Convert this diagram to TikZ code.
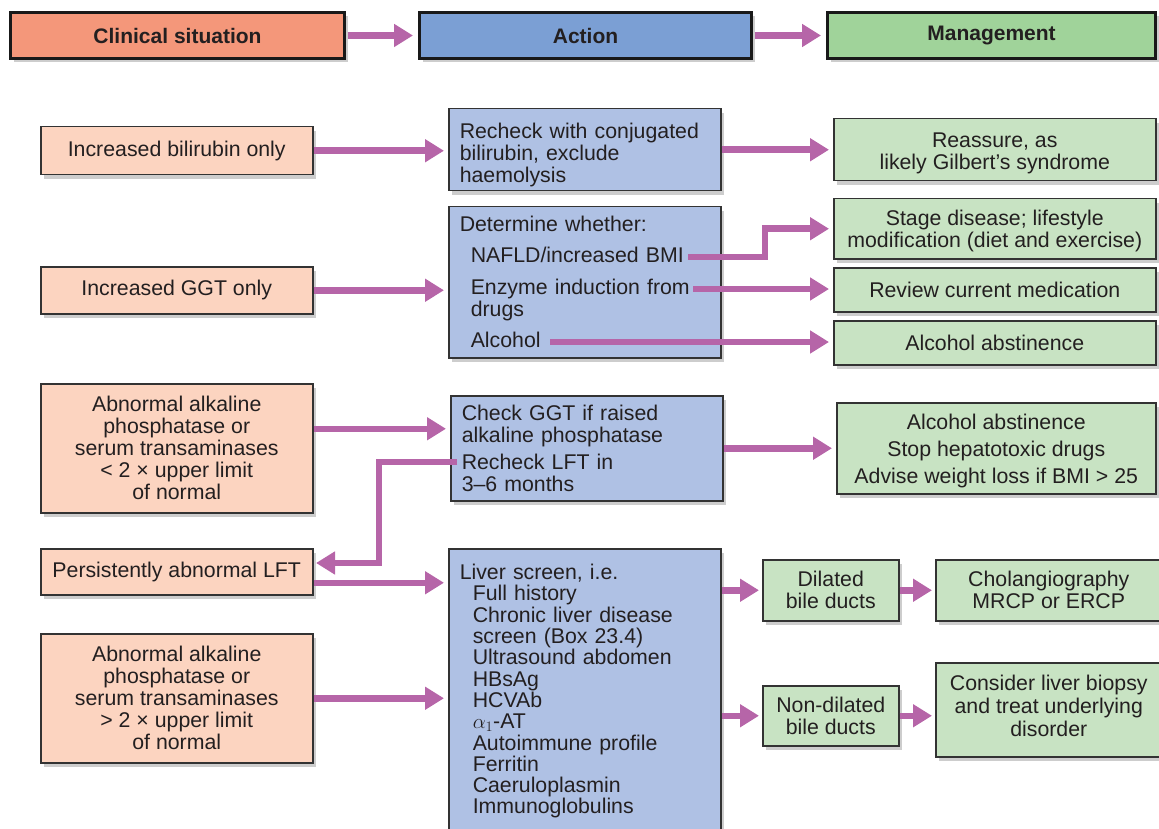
\documentclass[tikz,border=0pt]{standalone}
\usepackage{fontspec}
\setmainfont{Liberation Sans}
\usetikzlibrary{arrows.meta,shadows,calc}
\definecolor{hdrsal}{HTML}{F4977A}
\definecolor{hdrblue}{HTML}{7B9FD4}
\definecolor{hdrgreen}{HTML}{A0D39A}
\definecolor{lsal}{HTML}{FCD4C0}
\definecolor{lblue}{HTML}{AFC1E4}
\definecolor{lgreen}{HTML}{C8E3C3}
\definecolor{arr}{HTML}{B665A8}
\definecolor{bord}{HTML}{333333}
\definecolor{txt}{HTML}{231F20}
\newcommand{\dpstrut}[1]{\rule[-#1]{0pt}{#1}}
\newcommand{\htstrut}[1]{\rule{0pt}{#1}}
\begin{document}
\begin{tikzpicture}[x=1pt,y=-1pt,
  shad/.style={drop shadow={shadow xshift=3pt,shadow yshift=-4pt,opacity=0.28,fill=black!70}},
  hdr/.style={shad,draw=black!90,line width=3pt,minimum height=46pt,anchor=north west,inner sep=0pt,
    font=\fontsize{21}{22}\selectfont\bfseries,text=txt},
  cbox/.style={shad,draw=bord,line width=1.5pt,anchor=north west,inner sep=0pt,align=center,
    font=\fontsize{21.3}{22}\selectfont,text=txt},
  abox/.style={cbox,align=left,inner xsep=11pt,inner ysep=0pt,text width=250pt,fill=lblue},
  sbox/.style={cbox,fill=lsal},
  gbox/.style={cbox,fill=lgreen},
  flow/.style={draw=arr,line width=6.5pt,-{Triangle[length=19pt,width=22pt]},shorten >=4pt},
]
\useasboundingbox (0,0) rectangle (1159,829);

% headers
\node[hdr,fill=hdrsal,minimum width=334pt] (h1) at (9,11) {Clinical situation};
\node[hdr,fill=hdrblue,minimum width=332pt] (h2) at (418,11) {Action};
\node[hdr,fill=hdrgreen,minimum width=328pt] (h3) at (826,11) {Management};
\draw[flow,shorten >=5pt,shorten <=1.5pt] (h1.east) -- (h2.west);
\draw[flow,shorten >=5pt,shorten <=1.5pt] (h2.east) -- (h3.west);

% row 1
\node[sbox,minimum width=272pt,minimum height=48pt] (bili) at (40,126) {Increased bilirubin only};
\node[abox,minimum height=82pt] (recheck) at (448,108) {\htstrut{25.5pt}Recheck with conjugated\\bilirubin, exclude\\haemolysis};
\node[gbox,minimum width=322pt,minimum height=62pt] (reassure) at (833,118) {\htstrut{22.5pt}Reassure, as\\likely Gilbert’s syndrome};
\draw[flow] (bili.east) -- (bili.east -| recheck.west);
\draw[flow] (recheck.east) -- (recheck.east -| reassure.west);

% row 2
\node[sbox,minimum width=272pt,minimum height=47pt] (ggt) at (40,266) {Increased GGT only};
\node[abox,minimum height=151pt] (determine) at (448,206) {Determine whether:\\[9pt]
  \hspace*{11pt}NAFLD/increased BMI\\[10pt]
  \hspace*{11pt}Enzyme induction from\\
  \hspace*{11pt}drugs\\[9pt]
  \hspace*{11pt}Alcohol};
\node[gbox,minimum width=322pt,minimum height=60pt] (stage) at (833,198) {\htstrut{20.5pt}Stage disease; lifestyle\\modification (diet and exercise)};
\node[gbox,minimum width=322pt,minimum height=44pt] (review) at (833,267) {Review current medication};
\node[gbox,minimum width=322pt,minimum height=44pt] (alc) at (833,320) {Alcohol abstinence};
\draw[flow] (ggt.east) -- (ggt.east -| determine.west);
\coordinate (nafld) at (688,257);
\coordinate (kink) at (765,240);
\coordinate (enz) at (693,289);
\coordinate (alco) at (550,342);
\draw[flow] (nafld) -| (kink |- stage.west) -- (stage.west);
\draw[flow] (enz) -- (enz -| review.west);
\draw[flow] (alco) -- (alco -| alc.west);

% row 3
\node[sbox,minimum width=272pt,minimum height=129pt] (abn1) at (40,383) {Abnormal alkaline\\phosphatase or\\serum transaminases\\< 2 × upper limit\\of normal};
\node[abox,minimum height=105pt] (check) at (450,395) {Check GGT if raised\\alkaline phosphatase\\[5pt]Recheck LFT in\\3–6 months};
\node[gbox,minimum width=319pt,minimum height=91pt] (mg3) at (836,402) {\htstrut{21.5pt}Alcohol abstinence\\[5pt]Stop hepatotoxic drugs\\[5pt]Advise weight loss if BMI > 25};
\coordinate (a3) at ($(abn1.east)+(0,-19.5)$);
\draw[flow] (a3) -- (a3 -| check.west);
\draw[flow] (check.east) -- (check.east -| mg3.west);

% persistent
\node[sbox,minimum width=272pt,minimum height=46pt] (persist) at (40,548) {Persistently abnormal LFT};
\node[sbox,minimum width=272pt,minimum height=129pt] (abn2) at (40,633) {Abnormal alkaline\\phosphatase or\\serum transaminases\\> 2 × upper limit\\of normal};
\node[abox,minimum height=285pt,font=\fontsize{21.3}{21.3}\selectfont] (liver) at (448,548) {Liver screen, i.e.\\
  \hspace*{13pt}Full history\\
  \hspace*{13pt}Chronic liver disease\\
  \hspace*{13pt}screen (Box 23.4)\\
  \hspace*{13pt}Ultrasound abdomen\\
  \hspace*{13pt}HBsAg\\
  \hspace*{13pt}HCVAb\\
  \hspace*{13pt}$\alpha_1$-AT\\
  \hspace*{13pt}Autoimmune profile\\
  \hspace*{13pt}Ferritin\\
  \hspace*{13pt}Caeruloplasmin\\
  \hspace*{13pt}Immunoglobulins};
\coordinate (loopS) at (457,462);
\coordinate (loopX) at (379,500);
\coordinate (loopT) at (312,563);
\draw[flow] (loopS) -| (loopX |- loopT) -- (loopT);
\coordinate (p1) at ($(persist.east)+(0,11)$);
\draw[flow] (p1) -- (p1 -| liver.west);
\draw[flow] (abn2.east) -- (abn2.east -| liver.west);

\node[gbox,minimum width=136pt,minimum height=61pt] (dil) at (762,559) {Dilated\\bile ducts};
\node[gbox,minimum width=226pt,minimum height=61pt] (chol) at (935,559) {Cholangiography\\MRCP or ERCP};
\node[gbox,minimum width=136pt,minimum height=60pt] (ndil) at (762,685) {Non-dilated\\bile ducts};
\node[gbox,minimum width=226pt,minimum height=94pt] (biop) at (935,662) {Consider liver biopsy\\[1pt]and treat underlying\\[1pt]disorder\rule[-8pt]{0pt}{8pt}};
\draw[flow,shorten >=3pt] (liver.east |- dil.west) -- (dil.west);
\draw[flow,shorten >=3pt] (dil.east) -- (chol.west |- dil.east);
\draw[flow,shorten >=3pt] (liver.east |- ndil.west) -- (ndil.west);
\draw[flow,shorten >=3pt] (ndil.east) -- (biop.west |- ndil.east);
\end{tikzpicture}
\end{document}
